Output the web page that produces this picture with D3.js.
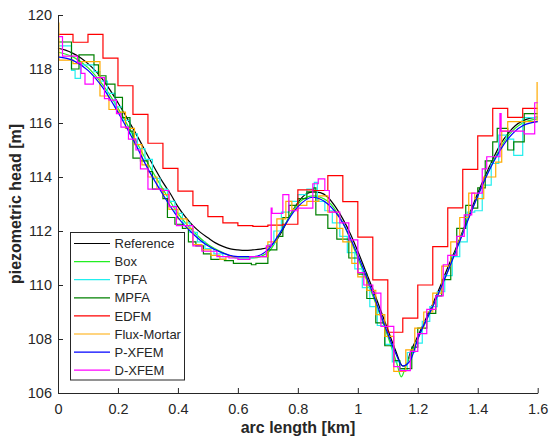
<!DOCTYPE html>
<meta charset="utf-8">
<style>
body { margin: 0; background: #fff; }
text { font-family: "Liberation Sans", Arial, Helvetica, sans-serif; fill: #262626; }
.axis path, .axis line { stroke: #262626; }
</style>
<body>
<svg id="chart" width="550" height="439"></svg>
<script src="https://d3js.org/d3.v7.min.js"></script>
<script>
// smooth curves: x in km, head in m
var refX  = [0, 0.025, 0.05, 0.075, 0.1, 0.125, 0.15, 0.175, 0.2, 0.225, 0.25, 0.275, 0.3, 0.325, 0.35, 0.375, 0.4, 0.425, 0.45, 0.475, 0.5, 0.525, 0.55, 0.575, 0.6, 0.625, 0.65, 0.675, 0.7, 0.725, 0.75, 0.775, 0.8, 0.825, 0.85, 0.875, 0.9, 0.925, 0.95, 0.975, 1.0, 1.025, 1.05, 1.075, 1.1, 1.125, 1.15, 1.16, 1.175, 1.2, 1.225, 1.25, 1.275, 1.3, 1.325, 1.35, 1.375, 1.4, 1.425, 1.45, 1.475, 1.5, 1.525, 1.55, 1.575, 1.6];
var refY  = [118.77, 118.7, 118.58, 118.42, 118.2, 117.93, 117.6, 117.2, 116.75, 116.28, 115.8, 115.3, 114.78, 114.28, 113.8, 113.38, 112.9, 112.52, 112.2, 111.95, 111.75, 111.56, 111.43, 111.34, 111.3, 111.28, 111.3, 111.33, 111.4, 111.6, 112.05, 112.6, 113.05, 113.35, 113.45, 113.42, 113.25, 112.9, 112.45, 111.9, 111.25, 110.55, 109.85, 109.1, 108.35, 107.6, 107.0, 107.0, 107.5, 108.1, 108.7, 109.3, 109.95, 110.65, 111.3, 112.0, 112.7, 113.4, 114.05, 114.65, 115.2, 115.6, 115.9, 116.08, 116.18, 116.22];

var boxX  = [0, 0.05, 0.1, 0.15, 0.2, 0.25, 0.3, 0.35, 0.4, 0.45, 0.5, 0.55, 0.6, 0.65, 0.7, 0.75, 0.8, 0.85, 0.9, 0.95, 1.0, 1.05, 1.1, 1.13, 1.145, 1.16, 1.2, 1.25, 1.3, 1.35, 1.4, 1.45, 1.5, 1.55, 1.6];
var boxY  = [118.62, 118.45, 118.05, 117.4, 116.55, 115.55, 114.5, 113.55, 112.65, 112.0, 111.5, 111.2, 111.0, 111.0, 111.2, 112.1, 113.0, 113.3, 113.1, 112.3, 111.0, 109.6, 108.1, 107.1, 106.6, 107.0, 108.0, 109.2, 110.5, 111.95, 113.3, 114.55, 115.5, 116.0, 116.15];

var pxfemX = [0, 0.05, 0.1, 0.15, 0.2, 0.25, 0.3, 0.35, 0.4, 0.45, 0.5, 0.55, 0.6, 0.65, 0.7, 0.75, 0.8, 0.85, 0.9, 0.95, 1.0, 1.05, 1.1, 1.125, 1.15, 1.175, 1.2, 1.25, 1.3, 1.35, 1.4, 1.45, 1.5, 1.55, 1.6];
var pxfemY = [118.45, 118.32, 117.95, 117.3, 116.4, 115.4, 114.3, 113.35, 112.5, 111.9, 111.45, 111.18, 111.05, 111.05, 111.3, 112.1, 112.9, 113.25, 113.0, 112.3, 111.1, 109.7, 108.2, 107.5, 107.0, 107.2, 108.0, 109.2, 110.5, 111.9, 113.3, 114.5, 115.4, 115.9, 116.05];

// step curves: cell start (km) and cell value (m); last cell ends at 1.6
var tpfaX = [0, 0.045, 0.057, 0.075, 0.12, 0.14, 0.165, 0.19, 0.215, 0.24, 0.265, 0.29, 0.315, 0.34, 0.365, 0.39, 0.415, 0.44, 0.465, 0.49, 0.52, 0.55, 0.6, 0.65, 0.7, 0.72, 0.745, 0.77, 0.8, 0.83, 0.855, 0.865, 0.89, 0.915, 0.94, 0.965, 0.99, 1.015, 1.04, 1.065, 1.09, 1.115, 1.14, 1.165, 1.19, 1.215, 1.24, 1.265, 1.29, 1.315, 1.34, 1.365, 1.39, 1.415, 1.445, 1.47, 1.495, 1.52, 1.55];
var tpfaY = [118.86, 117.95, 117.65, 118.15, 117.9, 117.55, 117.1, 116.6, 116.1, 115.6, 115.05, 114.65, 113.95, 113.55, 113.1, 112.65, 112.3, 111.95, 111.6, 111.35, 111.15, 111.05, 111.0, 111.05, 111.5, 112.0, 112.7, 113.1, 113.35, 113.55, 113.8, 113.1, 112.75, 112.3, 111.8, 111.2, 110.6, 109.9, 109.2, 108.5, 107.8, 107.15, 106.85, 107.5, 107.85, 108.65, 109.2, 109.75, 110.35, 111.05, 111.6, 112.7, 112.75, 113.7, 114.5, 115.55, 115.4, 114.8, 116.2];

var mpfaX = [0, 0.045, 0.07, 0.12, 0.135, 0.16, 0.19, 0.215, 0.24, 0.25, 0.275, 0.3, 0.315, 0.35, 0.365, 0.39, 0.415, 0.435, 0.46, 0.485, 0.51, 0.555, 0.585, 0.645, 0.66, 0.7, 0.73, 0.75, 0.77, 0.8, 0.83, 0.853, 0.86, 0.9, 0.93, 0.97, 1.0, 1.03, 1.06, 1.09, 1.12, 1.14, 1.18, 1.2, 1.23, 1.26, 1.28, 1.31, 1.33, 1.36, 1.38, 1.4, 1.425, 1.45, 1.465, 1.48, 1.5, 1.52, 1.555];
var mpfaY = [119.0, 118.0, 118.52, 118.15, 117.75, 117.44, 116.95, 116.2, 115.7, 114.7, 114.6, 114.2, 113.55, 113.2, 112.5, 112.25, 112.1, 111.6, 111.45, 111.15, 110.95, 110.9, 110.8, 110.75, 110.8, 111.3, 111.8, 112.5, 112.95, 113.2, 113.45, 113.6, 112.6, 112.1, 111.7, 111.0, 110.4, 109.5, 108.6, 107.75, 107.2, 106.9, 107.7, 108.4, 108.95, 109.6, 110.2, 111.1, 112.1, 112.95, 112.85, 113.6, 114.6, 115.3, 115.8, 115.8, 115.0, 115.3, 116.35];

var edfmX = [0, 0.05, 0.1, 0.15, 0.2, 0.25, 0.3, 0.35, 0.4, 0.45, 0.5, 0.55, 0.6, 0.65, 0.7, 0.75, 0.8, 0.85, 0.9, 0.95, 1.0, 1.05, 1.1, 1.15, 1.2, 1.25, 1.3, 1.35, 1.4, 1.45, 1.5, 1.55];
var edfmY = [119.28, 118.99, 119.28, 118.4, 117.38, 116.32, 115.25, 114.32, 113.48, 112.94, 112.53, 112.3, 112.2, 112.17, 112.22, 112.25, 113.52, 113.5, 114.05, 113.09, 111.77, 110.19, 108.25, 108.77, 110.0, 111.42, 112.86, 114.28, 115.52, 116.54, 116.21, 116.54];

var fluxX = [0, 0.003, 0.05, 0.078, 0.14, 0.17, 0.2, 0.225, 0.255, 0.28, 0.3, 0.33, 0.35, 0.37, 0.4, 0.43, 0.45, 0.48, 0.51, 0.54, 0.56, 0.6, 0.7, 0.73, 0.76, 0.78, 0.8, 0.83, 0.87, 0.9, 0.93, 0.95, 0.98, 1.0, 1.03, 1.06, 1.09, 1.12, 1.16, 1.19, 1.22, 1.25, 1.28, 1.31, 1.34, 1.37, 1.39, 1.42, 1.46, 1.48, 1.5, 1.598];
var fluxY = [119.7, 118.33, 118.2, 118.27, 117.0, 116.5, 116.4, 115.8, 115.2, 114.45, 114.0, 113.55, 113.35, 112.8, 112.45, 112.1, 111.5, 111.3, 111.1, 110.95, 111.05, 111.05, 111.6, 112.45, 113.1, 112.8, 112.95, 113.1, 113.3, 112.7, 112.1, 111.6, 110.8, 110.3, 109.8, 108.9, 108.1, 106.8, 107.6, 108.4, 109.0, 109.7, 110.7, 111.6, 112.5, 113.4, 113.2, 114.0, 114.55, 115.7, 116.05, 117.5];

var dxfemX = [0, 0.015, 0.065, 0.077, 0.09, 0.118, 0.155, 0.17, 0.195, 0.21, 0.235, 0.26, 0.275, 0.3, 0.345, 0.37, 0.395, 0.425, 0.45, 0.48, 0.53, 0.57, 0.6, 0.64, 0.695, 0.711, 0.714, 0.75, 0.77, 0.8, 0.85, 0.868, 0.89, 0.905, 0.94, 0.97, 1.0, 1.02, 1.05, 1.077, 1.12, 1.14, 1.175, 1.2, 1.23, 1.26, 1.285, 1.3, 1.33, 1.355, 1.38, 1.415, 1.43, 1.474, 1.478, 1.555, 1.59];
var dxfemY = [119.2, 118.48, 118.23, 117.84, 117.44, 117.68, 116.9, 116.85, 116.35, 115.85, 115.4, 115.0, 114.3, 113.55, 113.5, 112.9, 112.2, 112.2, 111.45, 111.25, 111.05, 111.0, 110.95, 111.05, 111.45, 112.85, 112.65, 113.35, 112.75, 112.85, 113.75, 113.93, 113.5, 112.7, 112.3, 111.67, 110.46, 110.0, 109.7, 108.47, 106.98, 106.83, 107.54, 108.2, 109.1, 109.6, 110.75, 111.1, 111.8, 112.6, 113.4, 114.3, 114.75, 116.35, 115.7, 115.6, 116.75];

var names  = ["Reference", "Box", "TPFA", "MPFA", "EDFM", "Flux-Mortar", "P-XFEM", "D-XFEM"];
var colors = ["#000000", "#22ee22", "#22eeee", "#008000", "#ff0000", "#ffaa00", "#0000ff", "#ff00ff"];

function pairs(xs, ys) { return xs.map(function (v, i) { return [v, ys[i]]; }); }
function steps(xs, ys) { var p = pairs(xs, ys); p.push([1.6, ys[ys.length - 1]]); return p; }

var series = [
  { d: pairs(refX, refY), step: false },
  { d: pairs(boxX, boxY), step: false },
  { d: steps(tpfaX, tpfaY), step: true },
  { d: steps(mpfaX, mpfaY), step: true },
  { d: steps(edfmX, edfmY), step: true },
  { d: steps(fluxX, fluxY), step: true },
  { d: pairs(pxfemX, pxfemY), step: false },
  { d: steps(dxfemX, dxfemY), step: true }
];

var svg = d3.select("#chart");
var x = d3.scaleLinear().domain([0, 1.6]).range([58, 537.7]);
var y = d3.scaleLinear().domain([106, 120]).range([393, 15]);

var smooth = d3.line().x(function (d) { return x(d[0]); }).y(function (d) { return y(d[1]); }).curve(d3.curveMonotoneX);
var stair = d3.line().x(function (d) { return x(d[0]); }).y(function (d) { return y(d[1]); }).curve(d3.curveStepAfter);

series.forEach(function (s, i) {
  svg.append("path")
    .attr("d", s.step ? stair(s.d) : smooth(s.d))
    .attr("fill", "none")
    .attr("stroke", colors[i])
    .attr("stroke-width", 1.2);
});

// axes, ticks point inward like matlab
var xa = svg.append("g").attr("class", "axis").attr("transform", "translate(0,393)")
  .call(d3.axisBottom(x).tickValues([0, 0.2, 0.4, 0.6, 0.8, 1, 1.2, 1.4, 1.6]).tickFormat(d3.format("~g"))
    .tickSize(-5).tickSizeOuter(0).tickPadding(11));
var ya = svg.append("g").attr("class", "axis").attr("transform", "translate(58,0)")
  .call(d3.axisLeft(y).tickValues([106, 108, 110, 112, 114, 116, 118, 120])
    .tickSize(-5).tickSizeOuter(0).tickPadding(6));
svg.selectAll(".axis text").style("font-size", "14.5px").style("font-family", '"Liberation Sans", Arial, sans-serif').attr("fill", "#262626");
svg.selectAll(".axis .domain").attr("stroke", "#262626");

svg.append("text").attr("x", 298).attr("y", 433).attr("text-anchor", "middle")
  .style("font-size", "16px").style("font-weight", "bold").text("arc length [km]");
svg.append("text").attr("transform", "translate(21,204) rotate(-90)").attr("text-anchor", "middle")
  .style("font-size", "16px").style("font-weight", "bold").text("piezometric head [m]");

// legend
var lg = svg.append("g");
lg.append("rect").attr("x", 70.5).attr("y", 232.5).attr("width", 114).attr("height", 147.5)
  .attr("fill", "#fff").attr("stroke", "#262626").attr("stroke-width", 1);
names.forEach(function (n, i) {
  var yy = 243.5 + i * 18.1;
  lg.append("line").attr("x1", 74).attr("x2", 110).attr("y1", yy).attr("y2", yy)
    .attr("stroke", colors[i]).attr("stroke-width", 1.2);
  lg.append("text").attr("x", 114.5).attr("y", yy).attr("dy", "0.36em")
    .style("font-size", "13px").text(n);
});
</script>
</body>
